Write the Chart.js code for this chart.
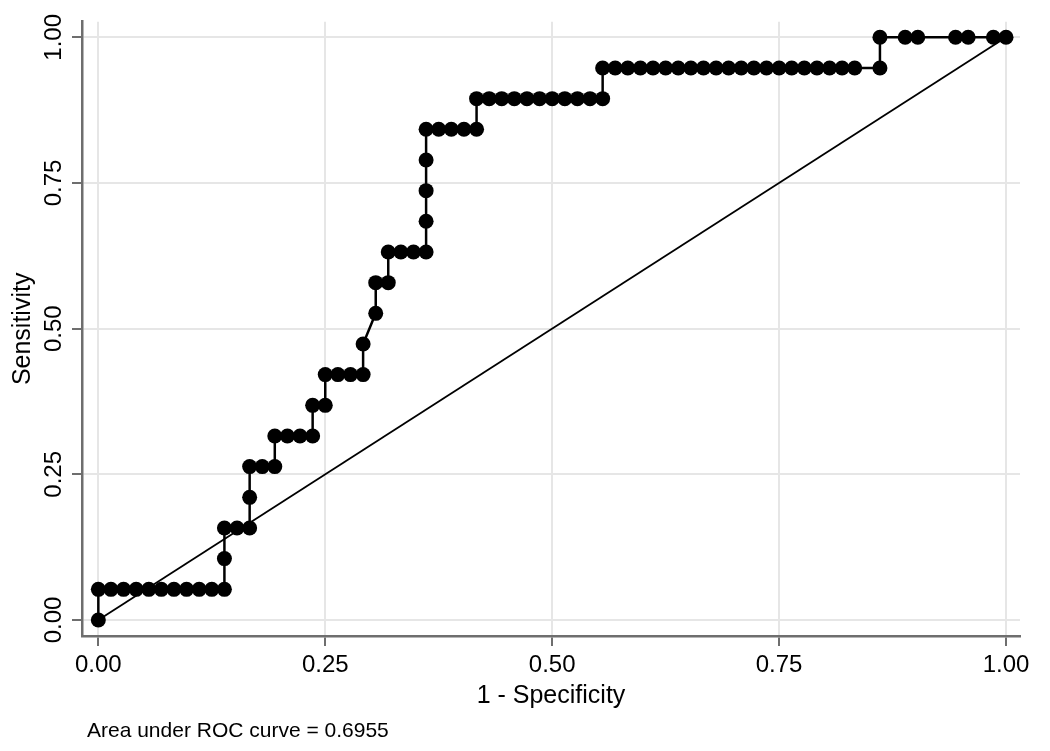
<!DOCTYPE html>
<html>
<head>
<meta charset="utf-8">
<script src="https://cdn.jsdelivr.net/npm/chart.js@4/dist/chart.umd.min.js"></script>
<style>
  html, body { margin: 0; padding: 0; background: #ffffff; }
  canvas { display: block; }
</style>
</head>
<body>
<canvas id="c" width="1050" height="751"></canvas>
<script>
// 1 - Specificity (false positive rate) for each ROC point
const fpr = [
  0,
  0, 0.0139, 0.0278, 0.0417, 0.0556, 0.0694, 0.0833, 0.0972, 0.1111, 0.125, 0.1389,
  0.1389,
  0.1389, 0.1528, 0.1667,
  0.1667,
  0.1667, 0.1806, 0.1944,
  0.1944, 0.2083, 0.2222, 0.2361,
  0.2361, 0.25,
  0.25, 0.2639, 0.2778, 0.2917,
  0.2917,
  0.3056,
  0.3056, 0.3194,
  0.3194, 0.3333, 0.3472, 0.3611,
  0.3611,
  0.3611,
  0.3611,
  0.3611, 0.375, 0.3889, 0.4028, 0.4167,
  0.4167, 0.4306, 0.4444, 0.4583, 0.4722, 0.4861, 0.5, 0.5139, 0.5278, 0.5417, 0.5556,
  0.5556, 0.5694, 0.5833, 0.5972, 0.6111, 0.625, 0.6389, 0.6528, 0.6667, 0.6806, 0.6944,
  0.7083, 0.7222, 0.7361, 0.75, 0.7639, 0.7778, 0.7917, 0.8056, 0.8194, 0.8333,
  0.8611,
  0.8611,
  0.8889, 0.9028, 0.9444, 0.9583, 0.9861, 1
];
// Sensitivity for each ROC point
const sens = [
  0,
  0.0526, 0.0526, 0.0526, 0.0526, 0.0526, 0.0526, 0.0526, 0.0526, 0.0526, 0.0526, 0.0526,
  0.1053,
  0.1579, 0.1579, 0.1579,
  0.2105,
  0.2632, 0.2632, 0.2632,
  0.3158, 0.3158, 0.3158, 0.3158,
  0.3684, 0.3684,
  0.4211, 0.4211, 0.4211, 0.4211,
  0.4737,
  0.5263,
  0.5789, 0.5789,
  0.6316, 0.6316, 0.6316, 0.6316,
  0.6842,
  0.7368,
  0.7895,
  0.8421, 0.8421, 0.8421, 0.8421, 0.8421,
  0.8947, 0.8947, 0.8947, 0.8947, 0.8947, 0.8947, 0.8947, 0.8947, 0.8947, 0.8947, 0.8947,
  0.9474, 0.9474, 0.9474, 0.9474, 0.9474, 0.9474, 0.9474, 0.9474, 0.9474, 0.9474, 0.9474,
  0.9474, 0.9474, 0.9474, 0.9474, 0.9474, 0.9474, 0.9474, 0.9474, 0.9474, 0.9474,
  0.9474,
  1,
  1, 1, 1, 1, 1, 1
];
// Reference (chance) line
const refX = [0, 1];
const refY = [0, 1];
// Axis ticks
const tickValues = [0, 0.25, 0.5, 0.75, 1];
const tickLabels = ['0.00', '0.25', '0.50', '0.75', '1.00'];
const xTitle = '1 - Specificity';
const yTitle = 'Sensitivity';
const note = 'Area under ROC curve = 0.6955';

const rocPoints = fpr.map((x, i) => ({ x: x, y: sens[i] }));
const refPoints = refX.map((x, i) => ({ x: x, y: refY[i] }));

const FONT = '"Liberation Sans", Arial, Helvetica, sans-serif';

function setTicks(scale) {
  scale.ticks = tickValues.map(v => ({ value: v }));
}
function labelFor(v) {
  const i = tickValues.findIndex(t => Math.abs(t - v) < 1e-9);
  return i >= 0 ? tickLabels[i] : '';
}

const notePlugin = {
  id: 'notePlugin',
  afterDraw(chart) {
    const ctx = chart.ctx;
    ctx.save();
    ctx.font = '21px ' + FONT;
    ctx.fillStyle = '#000000';
    ctx.textAlign = 'left';
    ctx.textBaseline = 'alphabetic';
    ctx.fillText(note, 87, 737);
    ctx.restore();
  }
};

new Chart(document.getElementById('c'), {
  type: 'scatter',
  data: {
    datasets: [
      {
        label: 'ROC',
        data: rocPoints,
        showLine: true,
        borderColor: '#000000',
        borderWidth: 2.5,
        backgroundColor: '#000000',
        pointBackgroundColor: '#000000',
        pointBorderWidth: 0,
        pointRadius: 7.5,
        tension: 0
      },
      {
        label: 'Reference',
        data: refPoints,
        showLine: true,
        borderColor: '#000000',
        borderWidth: 1.8,
        pointRadius: 0,
        tension: 0
      }
    ]
  },
  options: {
    responsive: false,
    animation: false,
    devicePixelRatio: 1,
    layout: { padding: { left: 0, top: 21.7, right: 30, bottom: 0 } },
    plugins: {
      legend: { display: false },
      tooltip: { enabled: false }
    },
    scales: {
      x: {
        type: 'linear',
        min: -0.018,
        max: 1.0154,
        afterBuildTicks: setTicks,
        afterFit(scale) { scale.height = 115; },
        grid: {
          color: '#e6e6e6',
          lineWidth: 2,
          drawTicks: true,
          tickLength: 10,
          tickColor: '#6e6e6e',
          tickWidth: 2
        },
        border: { display: true, color: '#6e6e6e', width: 2.5 },
        ticks: {
          color: '#000000',
          font: { family: FONT, size: 24 },
          padding: 5,
          maxRotation: 0,
          minRotation: 0,
          autoSkip: false,
          callback: (v) => labelFor(v)
        },
        title: {
          display: true,
          text: xTitle,
          color: '#000000',
          font: { family: FONT, size: 25 },
          padding: { top: 0, bottom: 40 }
        }
      },
      y: {
        type: 'linear',
        min: -0.0275,
        max: 1.0268,
        afterBuildTicks: setTicks,
        afterFit(scale) { scale.width = 82; },
        grid: {
          color: '#e6e6e6',
          lineWidth: 2,
          drawTicks: true,
          tickLength: 10,
          tickColor: '#6e6e6e',
          tickWidth: 2
        },
        border: { display: true, color: '#6e6e6e', width: 2.5 },
        ticks: {
          color: '#000000',
          font: { family: FONT, size: 24 },
          padding: -6,
          minRotation: 90,
          maxRotation: 90,
          crossAlign: 'center',
          autoSkip: false,
          callback: (v) => labelFor(v)
        },
        title: {
          display: true,
          text: yTitle,
          color: '#000000',
          font: { family: FONT, size: 25 },
          padding: { top: 8, bottom: 0 }
        }
      }
    }
  },
  plugins: [notePlugin]
});
</script>
</body>
</html>
